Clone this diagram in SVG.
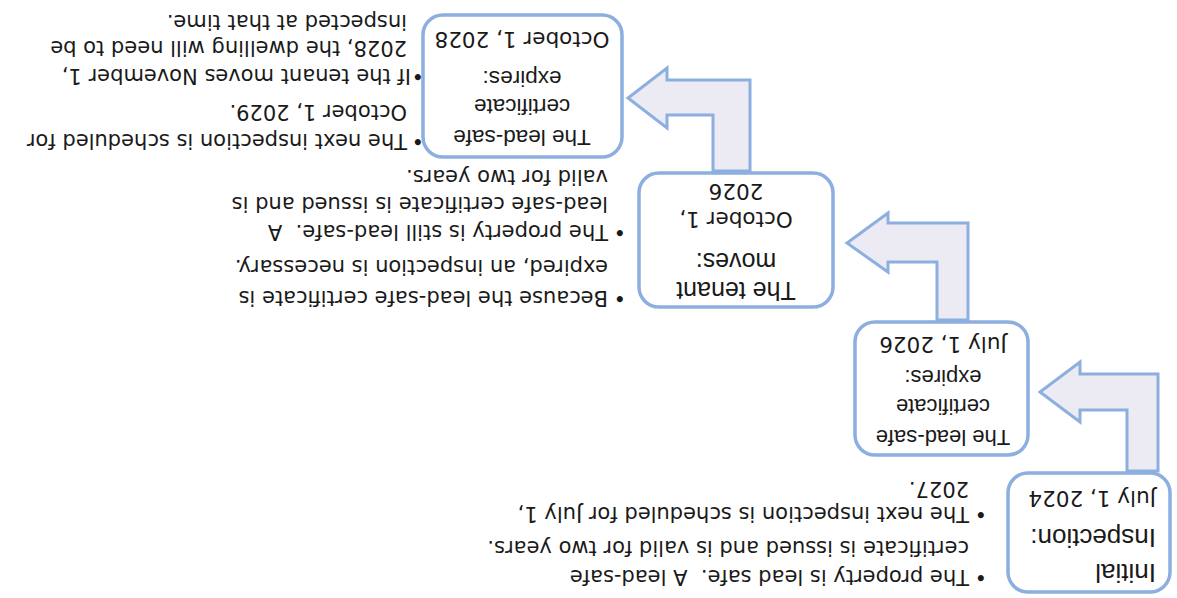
<svg xmlns="http://www.w3.org/2000/svg" width="1177" height="598" viewBox="0 0 1177 598">
<style>
.box{fill:#ffffff;stroke:#8cafdf;stroke-width:3.5}
.arr{fill:#ecebf4;stroke:#8cafdf;stroke-width:3;stroke-linejoin:miter}
.lbl{font-family:"Liberation Sans",Arial,sans-serif;fill:#1a1a1a}
.dt{font-family:"DejaVu Sans",Verdana,sans-serif;font-size:21.5px;fill:#1a1a1a}
.bt{font-family:"DejaVu Sans",Verdana,sans-serif;font-size:21px;fill:#1a1a1a}
</style>
<rect width="1177" height="598" fill="#ffffff"/>
<g transform="rotate(180 588.5 299)">
<g id="connectors">
<path class="arr" d="M19,127 L19,224 L97,224 L97,236 L137,206 L97,176 L97,188 L50,188 L50,127 Z"/>
<path class="arr" d="M209,278 L209,375 L289,375 L289,385 L330,355 L289,326 L289,336 L240,336 L240,278 Z"/>
<path class="arr" d="M427,427 L427,518 L510,518 L510,530 L549,500 L510,470 L510,483 L464,483 L464,427 Z"/>
</g>
<g id="node1">
<rect class="box" x="7" y="6" width="162" height="119" rx="20"/>
<text class="lbl" font-size="26" x="21" y="34">Initial</text>
<text class="lbl" font-size="26" x="21" y="69">Inspection:</text>
<text class="dt" x="21" y="107">July 1, 2024</text>
</g>
<g id="node2">
<rect class="box" x="149" y="143" width="173" height="133" rx="20"/>
<g class="lbl" font-size="22" text-anchor="middle">
<text x="234" y="168">The lead-safe</text>
<text x="234" y="199">certificate</text>
<text x="234" y="228">expires:</text>
</g>
<text class="dt" text-anchor="middle" x="234" y="261">July 1, 2026</text>
</g>
<g id="node3">
<rect class="box" x="344" y="291" width="194" height="134" rx="20"/>
<g class="lbl" font-size="25" text-anchor="middle">
<text x="441" y="316">The tenant</text>
<text x="441" y="345">moves:</text>
</g>
<text class="dt" text-anchor="middle" x="441" y="386">October 1,</text>
<text class="dt" text-anchor="middle" x="441" y="414">2026</text>
</g>
<g id="node4">
<rect class="box" x="555" y="441" width="199" height="142" rx="20"/>
<g class="lbl" font-size="22.5" text-anchor="middle">
<text x="655" y="468">The lead-safe</text>
<text x="655" y="499">certificate</text>
<text x="655" y="527">expires:</text>
</g>
<text class="dt" text-anchor="middle" x="655" y="566">October 1, 2028</text>
</g>
<g id="notes1" class="bt">
<text x="190" y="28">•</text>
<text x="208" y="28">The property is lead safe.&#160; A lead-safe</text>
<text x="208" y="57">certificate is issued and is valid for two years.</text>
<text x="190" y="91">•</text>
<text x="208" y="91">The next inspection is scheduled for July 1,</text>
<text x="208" y="116">2027.</text>
</g>
<g id="notes2" class="bt">
<text x="551" y="307">•</text>
<text x="569" y="307">Because the lead-safe certificate is</text>
<text x="569" y="338">expired, an inspection is necessary.</text>
<text x="551" y="373">•</text>
<text x="569" y="373">The property is still lead-safe.&#160; A</text>
<text x="569" y="401">lead-safe certificate is issued and is</text>
<text x="569" y="428">valid for two years.</text>
</g>
<g id="notes3" class="bt" font-size="21.5">
<text x="753" y="464">•</text>
<text x="770" y="464">The next inspection is scheduled for</text>
<text x="770" y="493">October 1, 2029.</text>
<text x="753" y="529">•</text>
<text x="766" y="529">If the tenant moves November 1,</text>
<text x="770" y="557">2028, the dwelling will need to be</text>
<text x="770" y="583">inspected at that time.</text>
</g>
</g>
</svg>
